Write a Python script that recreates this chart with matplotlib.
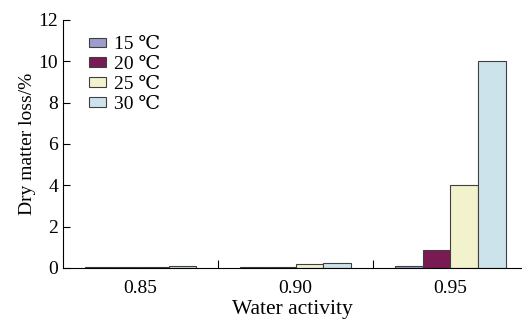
import numpy as np
import matplotlib.pyplot as plt

plt.rcParams['font.family'] = ['Liberation Serif', 'DejaVu Serif']

# Datos
actividad = ['0.85', '0.90', '0.95']
series = ['15 ℃', '20 ℃', '25 ℃', '30 ℃']
perdida_15 = [0.05, 0.05, 0.08]
perdida_20 = [0.05, 0.05, 0.87]
perdida_25 = [0.05, 0.18, 4.0]
perdida_30 = [0.10, 0.22, 10.0]
colores = ['#9d9ccd', '#7a1a52', '#f2f2cd', '#cde3eb']

fig = plt.figure(figsize=(5.22, 3.22), dpi=100)
ax = fig.add_axes([0.121, 0.168, 0.877, 0.77])

x = np.arange(len(actividad))
ancho = 0.18
valores = [perdida_15, perdida_20, perdida_25, perdida_30]
for i, (v, c, s) in enumerate(zip(valores, colores, series)):
    ax.bar(x + (i - 1.5) * ancho, v, ancho, color=c, edgecolor='#404040',
           linewidth=0.8, label=s)

ax.set_xlim(-0.5, 2.455)
ax.set_ylim(0, 12)
ax.set_yticks([0, 2, 4, 6, 8, 10, 12])
ax.set_xticks(x)
ax.set_xticklabels(actividad)
ax.set_xticks([0.5, 1.5], minor=True)
ax.tick_params(axis='x', which='major', length=0, labelsize=14, pad=9)
ax.tick_params(axis='x', which='minor', direction='in', length=6, width=0.8)
ax.tick_params(axis='y', direction='in', length=5, width=0.8, labelsize=14)
ax.spines['top'].set_visible(False)
ax.spines['right'].set_visible(False)
ax.set_ylabel('Dry matter loss/%', fontsize=14, labelpad=2)
ax.set_xlabel('Water activity', fontsize=15.5, labelpad=2)

ax.legend(loc='upper left', bbox_to_anchor=(0.04, 0.965), frameon=False,
          fontsize=14, handlelength=0.85, handleheight=0.4, handletextpad=0.4,
          labelspacing=0.15, borderaxespad=0)

fig.savefig('out.png', dpi=100)
